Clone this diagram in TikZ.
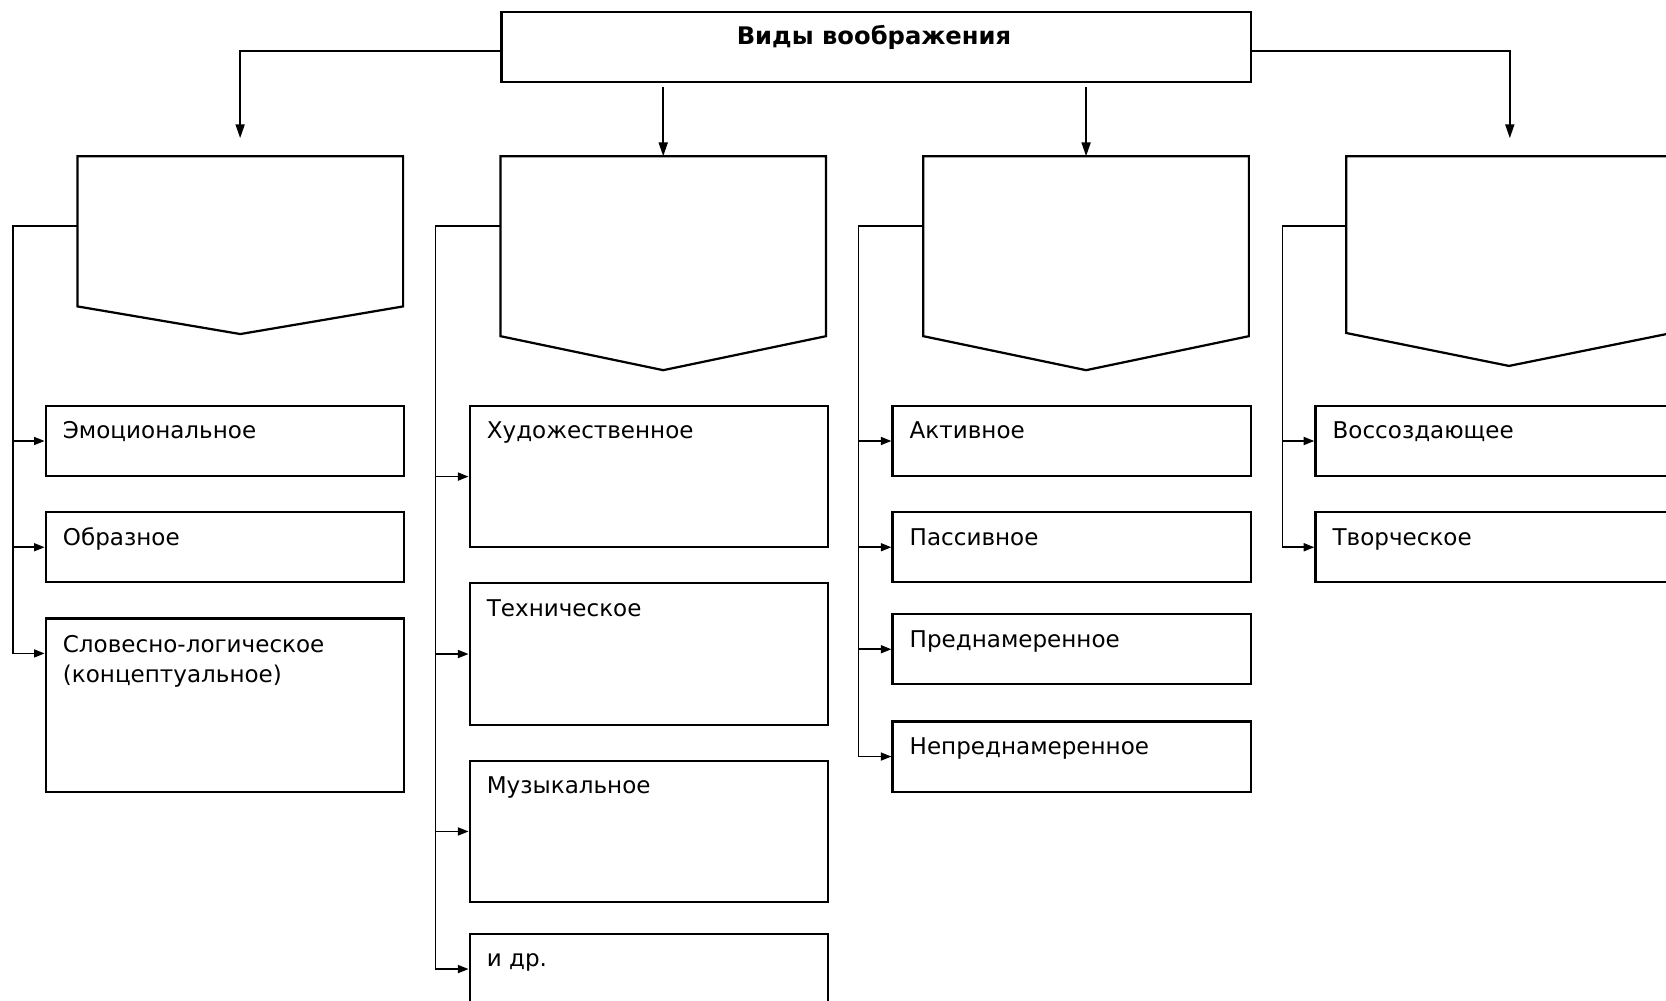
\documentclass[tikz,border=0pt]{standalone}
\usepackage{fontspec}
\setmainfont{DejaVu Sans}
\usetikzlibrary{arrows.meta,calc}
\begin{document}
\begin{tikzpicture}[x=1pt,y=-1pt,
  boxline/.style={line width=2.1pt},
  cbox/.style={draw, boxline, rectangle, anchor=north west, inner sep=0, minimum width=337, minimum height=66},
  ctext/.style={anchor=base west, inner sep=0, align=left, font=\fontsize{21.7}{28.5}\selectfont},
  conn/.style={line width=1.6pt},
  arr/.style={conn, -{Triangle[length=10pt,width=7.5pt]}},
  bigarr/.style={conn, -{Triangle[length=13pt,width=8.5pt]}},
  pent/.style={inner sep=0, anchor=north west, minimum width=306}
]
\useasboundingbox (0,0) rectangle (1568,942);
\clip (0,0) rectangle (1568,942);

% top box
\node[draw, boxline, anchor=north west, inner sep=0, minimum width=705, minimum height=66] (top) at (471,10) {};
\node[anchor=base, inner sep=0, font=\fontsize{22.8}{26}\bfseries] (title) at ([shift={(-2,32)}]top.north) {Виды воображения};

% pentagon regions
\node[pent, minimum height=167] (p1) at (73,147) {};
\node[pent, minimum height=201] (p2) at (471,147) {};
\node[pent, minimum height=201] (p3) at (869,147) {};
\node[pent, minimum height=197] (p4) at (1267,147) {};
\draw[boxline] (p1.north west) -- (p1.north east) -- ([shift={(0,-26)}]p1.south east) -- (p1.south) -- ([shift={(0,-26)}]p1.south west) -- cycle;
\draw[boxline] (p2.north west) -- (p2.north east) -- ([shift={(0,-32)}]p2.south east) -- (p2.south) -- ([shift={(0,-32)}]p2.south west) -- cycle;
\draw[boxline] (p3.north west) -- (p3.north east) -- ([shift={(0,-32)}]p3.south east) -- (p3.south) -- ([shift={(0,-32)}]p3.south west) -- cycle;
\draw[boxline] (p4.north west) -- (p4.north east) -- ([shift={(0,-31)}]p4.south east) -- (p4.south) -- ([shift={(0,-31)}]p4.south west) -- cycle;

% arrows from top
\coordinate (a1) at (226,130);
\coordinate (a4) at (1421,130);
\draw[bigarr] ([shift={(0,4)}]top.west) -| (a1);
\draw[bigarr] ([shift={(0,4)}]top.east) -| (a4);
\draw[bigarr] ([shift={(0,4)}]top.south -| p2.north) -- (p2.north);
\draw[bigarr] ([shift={(0,4)}]top.south -| p3.north) -- (p3.north);

% column 1
\node[cbox] (c11) at (42,381) {};
\node[cbox] (c12) at (42,481) {};
\node[cbox, minimum height=163] (c13) at (42,581) {};
\node[ctext] (t11) at ([shift={(17,32)}]c11.north west) {Эмоциональное};
\node[ctext] (t12) at ([shift={(17,32)}]c12.north west) {Образное};
\node[ctext, anchor=north west] (t13) at ([shift={(17,16.5)}]c13.north west) {Словесно-логическое\\(концептуальное)};
\coordinate (b1) at (12,213);
\coordinate (e13) at ([shift={(0,34)}]c13.north west);
\draw[conn] ([shift={(0,66)}]p1.north west) -- (b1) |- ([shift={(-10,0)}]e13);
\draw[arr] (b1 |- e13) -- (e13);
\draw[arr] (b1 |- c11.west) -- (c11.west);
\draw[arr] (b1 |- c12.west) -- (c12.west);

% column 2
\node[cbox, minimum height=133] (c21) at (441,381) {};
\node[cbox, minimum height=133] (c22) at (441,548) {};
\node[cbox, minimum height=133] (c23) at (441,715) {};
\node[cbox] (c24) at (441,878) {};
\node[ctext] (t21) at ([shift={(17,32)}]c21.north west) {Художественное};
\node[ctext] (t22) at ([shift={(17,32)}]c22.north west) {Техническое};
\node[ctext] (t23) at ([shift={(17,32)}]c23.north west) {Музыкальное};
\node[ctext] (t24) at ([shift={(17,32)}]c24.north west) {и др.};
\coordinate (b2) at (410,213);
\draw[conn] ([shift={(0,66)}]p2.north west) -- (b2) |- ([shift={(-10,0)}]c24.west);
\draw[arr] (b2 |- c21.west) -- (c21.west);
\draw[arr] (b2 |- c22.west) -- (c22.west);
\draw[arr] (b2 |- c23.west) -- (c23.west);
\draw[arr] (b2 |- c24.west) -- (c24.west);

% column 3
\node[cbox] (c31) at (839,381) {};
\node[cbox] (c32) at (839,481) {};
\node[cbox] (c33) at (839,577) {};
\node[cbox] (c34) at (839,678) {};
\node[ctext] (t31) at ([shift={(17,32)}]c31.north west) {Активное};
\node[ctext] (t32) at ([shift={(17,32)}]c32.north west) {Пассивное};
\node[ctext] (t33) at ([shift={(17,32)}]c33.north west) {Преднамеренное};
\node[ctext] (t34) at ([shift={(17,32)}]c34.north west) {Непреднамеренное};
\coordinate (b3) at (808,213);
\draw[conn] ([shift={(0,66)}]p3.north west) -- (b3) |- ([shift={(-10,0)}]c34.west);
\draw[arr] (b3 |- c31.west) -- (c31.west);
\draw[arr] (b3 |- c32.west) -- (c32.west);
\draw[arr] (b3 |- c33.west) -- (c33.west);
\draw[arr] (b3 |- c34.west) -- (c34.west);

% column 4
\node[cbox] (c41) at (1237,381) {};
\node[cbox] (c42) at (1237,481) {};
\node[ctext] (t41) at ([shift={(17,32)}]c41.north west) {Воссоздающее};
\node[ctext] (t42) at ([shift={(17,32)}]c42.north west) {Творческое};
\coordinate (b4) at (1207,213);
\draw[conn] ([shift={(0,66)}]p4.north west) -- (b4) |- ([shift={(-10,0)}]c42.west);
\draw[arr] (b4 |- c41.west) -- (c41.west);
\draw[arr] (b4 |- c42.west) -- (c42.west);
\end{tikzpicture}
\end{document}
